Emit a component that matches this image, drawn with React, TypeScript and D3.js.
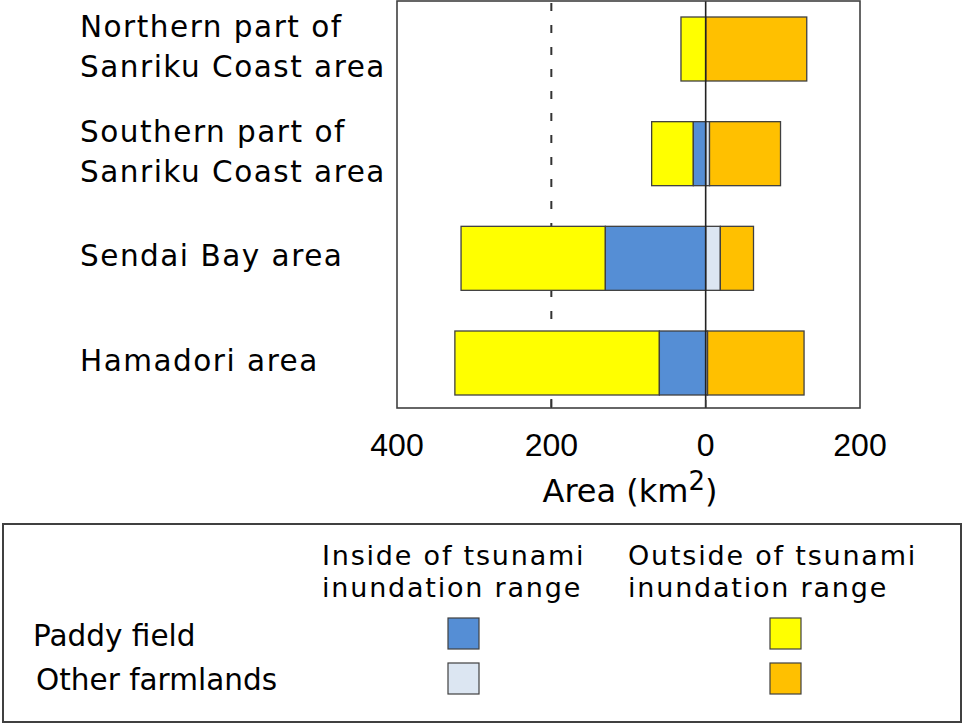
import React from 'react';
import * as d3 from 'd3';

// areas (km2)
const categories = ['Northern', 'Southern', 'Sendai', 'Hamadori'];
const labelLines = [
  ['Northern part of', 'Sanriku Coast area'],
  ['Southern part of', 'Sanriku Coast area'],
  ['Sendai Bay area'],
  ['Hamadori area'],
];
const paddyInside = [0, 16, 130, 60];
const paddyOutside = [32, 54, 187, 265];
const otherInside = [0, 5, 19, 2.5];
const otherOutside = [131, 92, 43, 125];
const xTicks = [-400, -200, 0, 200];

const colors = {
  paddyInside: '#558ED5',
  paddyOutside: '#FFFF00',
  otherInside: '#DCE6F2',
  otherOutside: '#FFC000',
};

const W = 964;
const H = 724;
const plot = { left: 397, right: 860, top: 1, bottom: 408 };
const barH = 64;
const font = 'DejaVu Sans, Verdana, sans-serif';

export default function App() {
  const x = d3.scaleLinear().domain([-400, 200]).range([plot.left, plot.right]);
  const y = d3.scalePoint<string>().domain(categories).range([49, 363]);

  const segs: { key: string; x0: number; x1: number; cy: number; fill: string }[] = [];
  categories.forEach((c, i) => {
    const cy = y(c) as number;
    const pi = paddyInside[i];
    const po = paddyOutside[i];
    const oi = otherInside[i];
    const oo = otherOutside[i];
    segs.push({ key: c + 'po', x0: -(pi + po), x1: -pi, cy, fill: colors.paddyOutside });
    if (pi > 0) segs.push({ key: c + 'pi', x0: -pi, x1: 0, cy, fill: colors.paddyInside });
    if (oi > 0) segs.push({ key: c + 'oi', x0: 0, x1: oi, cy, fill: colors.otherInside });
    segs.push({ key: c + 'oo', x0: oi, x1: oi + oo, cy, fill: colors.otherOutside });
  });

  const swatchX = [448, 770];
  const swatchY = [618, 663];
  const swatchFill = [
    [colors.paddyInside, colors.paddyOutside],
    [colors.otherInside, colors.otherOutside],
  ];

  return (
    <svg
      width={W}
      height={H}
      style={{ position: 'absolute', left: 0, top: 0, background: '#fff' }}
    >
      {/* dashed reference line at 200 on the left */}
      <line
        x1={x(-200)}
        x2={x(-200)}
        y1={plot.top + 2}
        y2={plot.bottom}
        stroke="#333"
        strokeWidth={2}
        strokeDasharray="8 14"
      />

      {segs.map((s) => (
        <rect
          key={s.key}
          x={x(s.x0)}
          y={s.cy - barH / 2}
          width={x(s.x1) - x(s.x0)}
          height={barH}
          fill={s.fill}
          stroke="#404040"
          strokeWidth={1.3}
        />
      ))}

      {/* zero line */}
      <line x1={x(0)} x2={x(0)} y1={plot.top} y2={plot.bottom} stroke="#222" strokeWidth={1.6} />

      {/* plot frame */}
      <rect
        x={plot.left}
        y={plot.top}
        width={plot.right - plot.left}
        height={plot.bottom - plot.top}
        fill="none"
        stroke="#404040"
        strokeWidth={1.6}
      />
      {xTicks.slice(1, 3).map((t) => (
        <line key={t} x1={x(t)} x2={x(t)} y1={plot.bottom} y2={plot.bottom - 8} stroke="#333" strokeWidth={1.5} />
      ))}

      {/* tick labels */}
      {xTicks.map((t) => (
        <text
          key={t}
          x={x(t)}
          y={456}
          textAnchor="middle"
          fontFamily="Liberation Sans, Arial, sans-serif"
          fontSize={32}
          fill="#000"
        >
          {Math.abs(t)}
        </text>
      ))}
      <text x={630} y={502} textAnchor="middle" fontFamily={font} fontSize={32} fill="#000">
        Area (km<tspan dy={-12} fontSize={26}>2</tspan>
        <tspan dy={12}>)</tspan>
      </text>

      {/* category labels */}
      {categories.map((c, i) => {
        const lines = labelLines[i];
        const base = (y(c) as number) + 8 - ((lines.length - 1) * 40) / 2;
        return (
          <text key={c} fontFamily={font} fontSize={29.5} letterSpacing={1.5} fill="#000">
            {lines.map((l, j) => (
              <tspan key={j} x={80} y={base + j * 40}>
                {l}
              </tspan>
            ))}
          </text>
        );
      })}

      {/* legend */}
      <rect x={3} y={524} width={958} height={198} fill="none" stroke="#404040" strokeWidth={2} />
      {[
        ['Inside of tsunami', 'inundation range'],
        ['Outside of tsunami', 'inundation range'],
      ].map((lines, i) =>
        lines.map((l, j) => (
          <text
            key={`${i}-${j}`}
            x={i === 0 ? 322 : 628}
            y={565 + j * 32}
            fontFamily={font}
            fontSize={27}
            letterSpacing={1.8}
            fill="#000"
          >
            {l}
          </text>
        ))
      )}
      {['Paddy field', 'Other farmlands'].map((l, r) => (
        <text key={l} x={r === 0 ? 33 : 36} y={r === 0 ? 646 : 690} fontFamily={font} fontSize={29.5} fill="#000">
          {l}
        </text>
      ))}
      {swatchY.map((sy, r) =>
        swatchX.map((sx, c) => (
          <rect
            key={`${r}-${c}`}
            x={sx}
            y={sy}
            width={31}
            height={31}
            fill={swatchFill[r][c]}
            stroke="#404040"
            strokeWidth={1.2}
          />
        ))
      )}
    </svg>
  );
}
